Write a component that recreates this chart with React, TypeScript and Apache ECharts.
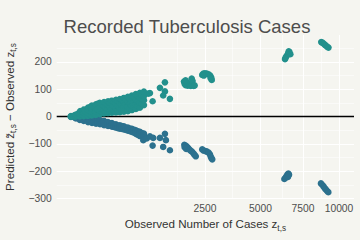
import React, { useEffect, useRef } from "react";
import * as echarts from "echarts";

// Observed number of cases (x) and residual predicted - observed (y)
const xBreaks = [2500, 5000, 7500, 10000];
const yBreaks = [-300, -200, -100, 0, 100, 200];

const upperPoints: [number, number][] = [
  [0, 0], [0, 2], [1, 1], [2, 5], [3, 0], [3.5, 7], [6, 3], [8, 12], [11, 1], [11, 10], [12, 20],
  [18, 6], [23, 2], [23, 13], [24, 26], [30, 18], [40, 3], [40, 14], [40, 25], [41, 33], [50, 9],
  [52, 21], [55, 36], [61, 4], [61, 16], [62, 28], [61, 40], [75, 10], [76, 34], [87, 6], [87, 19],
  [88, 32], [87, 45], [100, 26], [102, 47], [117, 9], [117, 22], [118, 36], [116, 50], [135, 16],
  [134, 30], [136, 44], [152, 12], [152, 25], [151, 39], [153, 53], [170, 19], [171, 33], [172, 48],
  [191, 13], [191, 27], [190, 42], [192, 56], [212, 20], [213, 36], [212, 51], [234, 14], [234, 29],
  [235, 44], [233, 58], [258, 22], [257, 38], [258, 54], [282, 15], [282, 31], [281, 47], [283, 61],
  [305, 24], [306, 41], [307, 57], [334, 16], [334, 33], [335, 50], [333, 64], [362, 26], [361, 44],
  [363, 60], [391, 18], [391, 34], [392, 52], [390, 68], [420, 27], [421, 45], [420, 63], [452, 20],
  [452, 37], [453, 55], [451, 72], [485, 30], [486, 48], [484, 66], [518, 24], [518, 40], [519, 58],
  [517, 77], [552, 35], [552, 52], [553, 71], [588, 28], [588, 45], [589, 62], [587, 82], [625, 38],
  [626, 56], [624, 76], [663, 33], [663, 50], [664, 68], [662, 87], [700, 46], [701, 64], [702, 80],
  [742, 42], [742, 60], [743, 76], [741, 91],
  [831, 84], [869, 86], [929, 56], [1103, 105], [1230, 125], [1230, 92], [1185, 77], [1364, 65],
  [1780, 128], [1800, 120], [1830, 115], [1870, 125], [1900, 113], [1950, 118], [2000, 112],
  [2030, 139], [2060, 130], [2100, 112], [2130, 114], [1830, 132],
  [2400, 152], [2440, 157], [2500, 158], [2570, 157], [2640, 154], [2700, 150], [2740, 142],
  [2760, 134], [2720, 140], [2460, 150],
  [6380, 210], [6420, 216], [6480, 222], [6560, 230], [6600, 238], [6640, 236], [6700, 228],
  [8720, 272], [8800, 270], [8880, 267], [8960, 263], [9050, 259], [9150, 255], [9230, 252],
];

const lowerPoints: [number, number][] = [
  [0, -1], [2, -3], [3.5, -7], [6, -5], [11, -3], [11, -12], [16, -8], [23, -4], [23, -16], [30, -11],
  [40, -5], [40, -12], [41, -20], [50, -16], [61, -7], [61, -15], [62, -23], [74, -19], [87, -9],
  [87, -18], [88, -26], [100, -13], [101, -22], [117, -13], [117, -21], [118, -28], [134, -18],
  [135, -27], [152, -16], [152, -25], [153, -31], [170, -21], [171, -30], [191, -20], [191, -28],
  [192, -34], [212, -25], [213, -33], [234, -24], [234, -31], [235, -37], [258, -29], [257, -38],
  [282, -28], [282, -35], [283, -40], [307, -33], [308, -42], [334, -32], [334, -38], [335, -44],
  [362, -35], [363, -45], [391, -36], [391, -42], [392, -47], [420, -40], [421, -49], [452, -40],
  [452, -46], [453, -51], [485, -44], [486, -53], [518, -45], [518, -51], [519, -56], [552, -48],
  [553, -59], [588, -50], [588, -57], [589, -63], [625, -54], [626, -67], [663, -56], [663, -63],
  [664, -71], [700, -60], [702, -72], [742, -62], [742, -70], [760, -76], [729, -86], [800, -80],
  [869, -72], [929, -106], [943, -78], [1103, -78], [1230, -63], [1256, -86], [1185, -111], [1364, -123],
  [1790, -103], [1830, -106], [1870, -110], [1910, -114], [1800, -112], [1850, -118], [1950, -120],
  [1990, -124], [2040, -128], [2090, -134], [2130, -140], [2170, -145],
  [2400, -120], [2450, -124], [2520, -126], [2580, -128], [2640, -132], [2690, -138], [2720, -146],
  [2750, -152], [2780, -156],
  [6340, -228], [6400, -224], [6460, -218], [6520, -212], [6580, -208], [6620, -212], [6560, -220],
  [8700, -244], [8790, -249], [8880, -255], [8960, -261], [9040, -266], [9130, -271], [9220, -276],
];

const FONT = "'Liberation Sans', Arial, Helvetica, sans-serif";
const BG = "#f5f5f0";

export default function App() {
  const ref = useRef<HTMLDivElement>(null);
  useEffect(() => {
    if (!ref.current) return;
    const chart = echarts.init(ref.current, undefined, { renderer: "svg" });

    // sqrt-transformed x scale
    const sx = xBreaks.map(Math.sqrt);
    const bd = sx[1] - sx[0];
    const ext = [sx[0] - bd, ...sx];
    const xMinor: number[] = [ext[0]];
    for (let i = 0; i < ext.length - 1; i++) xMinor.push((ext[i] + ext[i + 1]) / 2);
    const yMinor: number[] = [];
    for (let i = 0; i < yBreaks.length - 1; i++) yMinor.push((yBreaks[i] + yBreaks[i + 1]) / 2);
    yMinor.push(yBreaks[yBreaks.length - 1] + (yBreaks[1] - yBreaks[0]) / 2);

    const grid = [
      ...xMinor.map((v) => ({ xAxis: v, lineStyle: { width: 0.55 } })),
      ...sx.map((v) => ({ xAxis: v, lineStyle: { width: 1.1 } })),
      ...yMinor.map((v) => ({ yAxis: v, lineStyle: { width: 0.55 } })),
      ...yBreaks.map((v) => ({ yAxis: v, lineStyle: { width: 1.1 } })),
    ];

    const sub = { fontSize: 8.2, fontFamily: FONT, color: "#333", lineHeight: 9, verticalAlign: "bottom" };
    const main = { fontSize: 11.6, fontFamily: FONT, color: "#333", lineHeight: 17 };

    chart.setOption({
      animation: false,
      backgroundColor: BG,
      title: {
        text: "Recorded Tuberculosis Cases",
        left: 182,
        textAlign: "center",
        top: 12,
        textStyle: { fontSize: 18.5, fontWeight: "normal", color: "#4d4d4d", fontFamily: FONT },
      },
      grid: { left: 56.7, right: 6, top: 35, bottom: 41, outerBoundsMode: "none" },
      xAxis: {
        type: "value",
        min: -5.3,
        max: 105.6,
        axisLine: { show: false },
        splitLine: { show: false },
        axisTick: { show: true, length: 3, customValues: sx, lineStyle: { color: "#444", width: 1 } },
        axisLabel: {
          customValues: sx,
          margin: 4,
          fontSize: 10.3,
          fontFamily: FONT,
          color: "#4d4d4d",
          formatter: (v: number) => String(Math.round(v * v)),
        },
        name: "{a|Observed Number of Cases z}{b|t,s}",
        nameLocation: "middle",
        nameGap: 16,
        nameTextStyle: { rich: { a: main, b: sub } },
      },
      yAxis: {
        type: "value",
        min: -301,
        max: 298,
        axisLine: { show: false },
        splitLine: { show: false },
        axisTick: { show: true, length: 3.5, customValues: yBreaks, lineStyle: { color: "#444", width: 1 } },
        axisLabel: {
          customValues: yBreaks,
          margin: 5,
          fontSize: 10.3,
          fontFamily: FONT,
          color: "#4d4d4d",
          formatter: (v: number) => String(v).replace("-", "\u2212"),
        },
        name: "{a|Predicted z\u0303}{b|t,s}{a| \u2212 Observed z}{b|t,s}",
        nameLocation: "middle",
        nameRotate: 90,
        nameGap: 34,
        nameTextStyle: { rich: { a: main, b: sub } },
      },
      series: [
        {
          type: "scatter",
          data: [],
          silent: true,
          z: 1,
          markLine: {
            silent: true,
            z: 1,
            symbol: ["none", "none"],
            label: { show: false },
            lineStyle: { color: "#ffffff", type: "solid" },
            emphasis: { disabled: true },
            data: grid,
          },
        },
        {
          type: "scatter",
          data: [],
          silent: true,
          z: 2,
          markLine: {
            silent: true,
            z: 2,
            symbol: ["none", "none"],
            label: { show: false },
            lineStyle: { color: "#000000", type: "solid", width: 1.4 },
            emphasis: { disabled: true },
            data: [{ yAxis: 0 }],
          },
        },
        {
          type: "scatter",
          z: 3,
          symbolSize: 6.6,
          silent: true,
          itemStyle: { color: "#2c718e", opacity: 1 },
          data: lowerPoints.map(([o, r]) => [Math.sqrt(o), r]),
        },
        {
          type: "scatter",
          z: 3,
          symbolSize: 6.6,
          silent: true,
          itemStyle: { color: "#22908c", opacity: 1 },
          data: upperPoints.map(([o, r]) => [Math.sqrt(o), r]),
        },
      ],
    });
    return () => chart.dispose();
  }, []);
  return (
    <div
      ref={ref}
      style={{ position: "absolute", left: 0, top: 0, width: 360, height: 240 }}
    />
  );
}
